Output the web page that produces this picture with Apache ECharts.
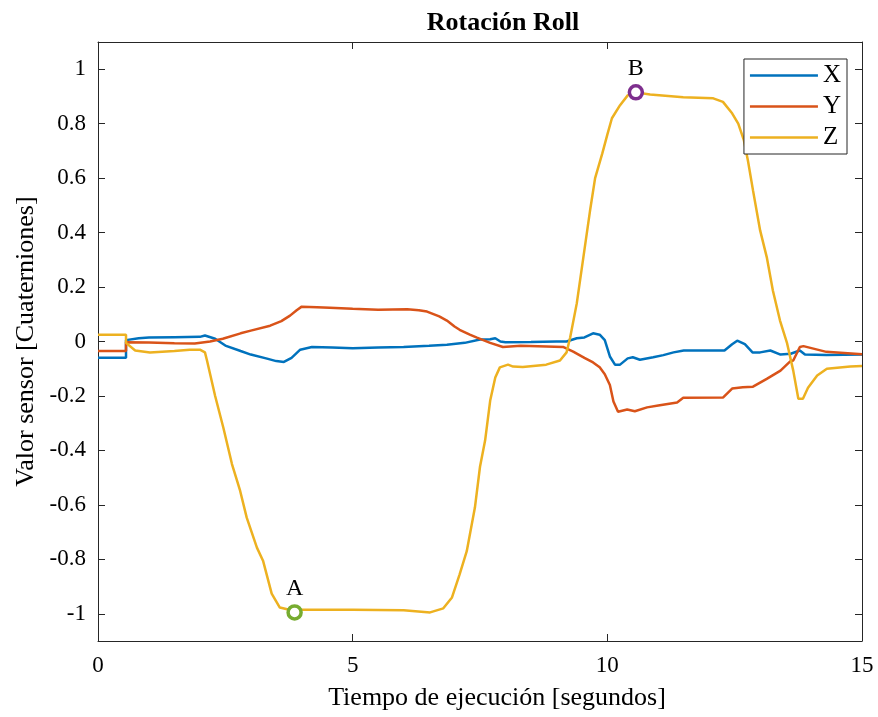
<!DOCTYPE html>
<html lang="es">
<head>
<meta charset="UTF-8">
<title>Rotación Roll</title>
<script src="https://cdn.jsdelivr.net/npm/echarts@6/dist/echarts.min.js"></script>
</head>
<body style="margin:0;">
<div id="main" style="width:878px;height:717px;"></div>
<script type="text/javascript">
// valores: [tiempo (s), valor]
var serieX = [[0,-0.06],[0.55,-0.06],[0.55,0.005],[0.8,0.012],[1.0,0.015],[1.5,0.016],[2.0,0.017],[2.1,0.022],[2.3,0.01],[2.5,-0.015],[2.8,-0.035],[3.0,-0.048],[3.3,-0.062],[3.5,-0.072],[3.65,-0.075],[3.8,-0.06],[3.97,-0.03],[4.2,-0.02],[4.6,-0.022],[5.0,-0.025],[5.5,-0.022],[6.0,-0.02],[6.5,-0.016],[6.85,-0.012],[7.2,-0.005],[7.5,0.007],[7.7,0.008],[7.8,0.012],[7.9,0.0],[8.0,-0.003],[8.5,-0.002],[9.0,0.0],[9.2,0.0],[9.4,0.012],[9.55,0.015],[9.72,0.03],[9.85,0.025],[9.95,0.005],[10.05,-0.055],[10.15,-0.085],[10.25,-0.085],[10.4,-0.062],[10.5,-0.058],[10.64,-0.067],[10.9,-0.058],[11.1,-0.05],[11.3,-0.04],[11.5,-0.033],[12.0,-0.033],[12.3,-0.033],[12.45,-0.01],[12.55,0.003],[12.7,-0.01],[12.85,-0.04],[13.0,-0.04],[13.2,-0.033],[13.4,-0.048],[13.6,-0.045],[13.78,-0.033],[13.88,-0.048],[14.3,-0.05],[15,-0.048]];
var serieY = [[0,-0.035],[0.55,-0.035],[0.55,-0.003],[1.0,-0.004],[1.5,-0.006],[1.9,-0.007],[2.2,0.0],[2.45,0.01],[2.8,0.03],[3.0,0.04],[3.38,0.058],[3.6,0.075],[3.77,0.095],[3.9,0.115],[4.0,0.128],[4.3,0.126],[4.55,0.124],[5.0,0.12],[5.5,0.117],[6.07,0.118],[6.3,0.115],[6.46,0.11],[6.7,0.092],[6.85,0.077],[7.0,0.055],[7.1,0.043],[7.3,0.025],[7.44,0.014],[7.7,-0.005],[7.95,-0.02],[8.3,-0.016],[8.8,-0.018],[9.13,-0.02],[9.33,-0.037],[9.55,-0.06],[9.72,-0.077],[9.85,-0.095],[9.95,-0.12],[10.05,-0.16],[10.12,-0.22],[10.21,-0.258],[10.39,-0.25],[10.54,-0.256],[10.78,-0.242],[11.0,-0.235],[11.37,-0.224],[11.49,-0.207],[12.27,-0.206],[12.45,-0.173],[12.66,-0.168],[12.86,-0.166],[13.13,-0.137],[13.4,-0.107],[13.59,-0.073],[13.65,-0.07],[13.78,-0.02],[13.85,-0.017],[14.3,-0.038],[15,-0.047]];
var serieZ = [[0,0.025],[0.55,0.025],[0.55,-0.005],[0.73,-0.033],[1.02,-0.04],[1.5,-0.035],[1.8,-0.03],[2.0,-0.03],[2.1,-0.04],[2.14,-0.07],[2.3,-0.2],[2.46,-0.316],[2.63,-0.45],[2.79,-0.548],[2.92,-0.647],[3.12,-0.757],[3.24,-0.805],[3.41,-0.926],[3.57,-0.977],[3.86,-0.99],[4.0,-0.985],[5.0,-0.985],[6.0,-0.987],[6.52,-0.995],[6.78,-0.98],[6.95,-0.94],[7.1,-0.855],[7.24,-0.77],[7.4,-0.61],[7.5,-0.46],[7.6,-0.364],[7.7,-0.217],[7.8,-0.132],[7.89,-0.095],[8.05,-0.085],[8.15,-0.092],[8.34,-0.094],[8.8,-0.085],[9.07,-0.07],[9.2,-0.04],[9.27,0.015],[9.4,0.14],[9.53,0.31],[9.66,0.48],[9.76,0.6],[9.9,0.69],[10.0,0.76],[10.09,0.82],[10.25,0.868],[10.4,0.904],[10.56,0.915],[10.84,0.907],[11.49,0.897],[12.08,0.893],[12.27,0.88],[12.45,0.838],[12.57,0.8],[12.68,0.74],[12.76,0.665],[12.86,0.555],[13.0,0.408],[13.13,0.31],[13.25,0.187],[13.39,0.077],[13.53,-0.007],[13.65,-0.107],[13.75,-0.21],[13.84,-0.21],[13.94,-0.17],[14.12,-0.125],[14.31,-0.1],[14.77,-0.092],[15,-0.09]];
var puntoA = [[3.86, -0.995]];
var puntoB = [[10.56, 0.915]];
var yTicks = [-1, -0.8, -0.6, -0.4, -0.2, 0, 0.2, 0.4, 0.6, 0.8, 1];

var fuente = 'Liberation Serif';
var ejeColor = '#262626';

var myChart = echarts.init(document.getElementById('main'));

function ejeY(pos, conTexto) {
    return {
        type: 'value', position: pos, min: -1.1, max: 1.1,
        name: conTexto ? 'Valor sensor [Cuaterniones]' : '',
        nameLocation: 'middle', nameGap: 58,
        nameTextStyle: {fontFamily: fuente, fontSize: 26, color: '#000'},
        axisLine: {show: true, onZero: false, lineStyle: {color: ejeColor, width: 1}},
        axisTick: {show: true, inside: true, length: 7, customValues: yTicks, lineStyle: {color: ejeColor}},
        axisLabel: {show: conTexto, customValues: yTicks, margin: 12, fontFamily: fuente, fontSize: 23, color: '#000'},
        splitLine: {show: false}
    };
}
function ejeX(pos, conTexto) {
    return {
        type: 'value', position: pos, min: 0, max: 15, interval: 5,
        name: conTexto ? 'Tiempo de ejecución [segundos]' : '',
        nameLocation: 'middle', nameGap: 44,
        nameTextStyle: {fontFamily: fuente, fontSize: 26, color: '#000', padding: [0, 0, 0, 34]},
        axisLine: {show: true, onZero: false, lineStyle: {color: ejeColor, width: 1}},
        axisTick: {show: true, inside: true, length: 7, lineStyle: {color: ejeColor}},
        axisLabel: {show: conTexto, margin: 13, fontFamily: fuente, fontSize: 23, color: '#000'},
        splitLine: {show: false}
    };
}

var option = {
    backgroundColor: '#fff',
    animation: false,
    title: {
        text: 'Rotación Roll', left: 498, top: 5, textAlign: 'center',
        textStyle: {fontFamily: fuente, fontSize: 26, fontWeight: 'bold', color: '#000'}
    },
    grid: {left: 98, right: 16, top: 42, bottom: 76},
    legend: {
        data: [{name: 'X', icon: 'rect'}, {name: 'Y', icon: 'rect'}, {name: 'Z', icon: 'rect'}],
        orient: 'vertical', right: 31, top: 59,
        padding: [4, 6, 4, 6], itemWidth: 68, itemHeight: 2.5, itemGap: 6,
        borderColor: ejeColor, borderWidth: 1, backgroundColor: '#fff',
        textStyle: {fontFamily: fuente, fontSize: 25, lineHeight: 24, color: '#000'}
    },
    xAxis: [ejeX('bottom', true), ejeX('top', false)],
    yAxis: [ejeY('left', true), ejeY('right', false)],
    series: [
        {name: 'X', type: 'line', data: serieX, symbol: 'none', lineStyle: {width: 2.5, color: '#0072BD'}, itemStyle: {color: '#0072BD'}},
        {name: 'Y', type: 'line', data: serieY, symbol: 'none', lineStyle: {width: 2.5, color: '#D95319'}, itemStyle: {color: '#D95319'}},
        {name: 'Z', type: 'line', data: serieZ, symbol: 'none', lineStyle: {width: 2.5, color: '#EDB120'}, itemStyle: {color: '#EDB120'}},
        {name: 'A', type: 'scatter', data: puntoA, symbol: 'circle', symbolSize: 13, z: 5,
            itemStyle: {color: '#fff', opacity: 1, borderColor: '#77AC30', borderWidth: 3.5},
            label: {show: true, position: 'top', distance: 3, formatter: 'A', fontFamily: fuente, fontSize: 24, color: '#000'}},
        {name: 'B', type: 'scatter', data: puntoB, symbol: 'circle', symbolSize: 13, z: 5,
            itemStyle: {color: '#fff', opacity: 1, borderColor: '#7E2F8E', borderWidth: 3.5},
            label: {show: true, position: 'top', distance: 3, formatter: 'B', fontFamily: fuente, fontSize: 24, color: '#000'}}
    ]
};
myChart.setOption(option);
</script>
</body>
</html>
